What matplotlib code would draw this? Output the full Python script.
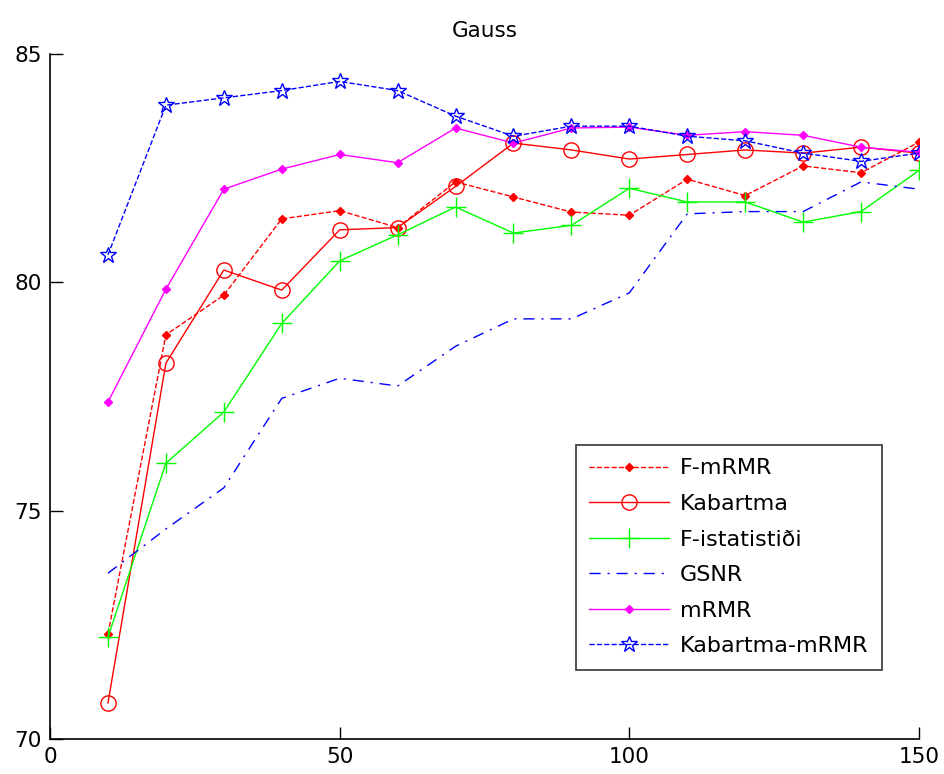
import matplotlib
matplotlib.use('Agg')
import matplotlib.pyplot as plt

plt.rcParams['font.family'] = ['DejaVu Sans']

# number of selected features
n_features = [10, 20, 30, 40, 50, 60, 70, 80, 90, 100, 110, 120, 130, 140, 150]

# accuracy (%) per method
f_mrmr = [72.3, 78.85, 79.72, 81.39, 81.57, 81.2, 82.2, 81.87, 81.54, 81.47, 82.26, 81.9, 82.55, 82.4, 83.07]
kabartma = [70.79, 78.23, 80.27, 79.83, 81.15, 81.2, 82.1, 83.05, 82.9, 82.7, 82.8, 82.9, 82.83, 82.96, 82.83]
f_istat = [72.23, 76.04, 77.16, 79.1, 80.47, 81.04, 81.65, 81.08, 81.25, 82.06, 81.76, 81.76, 81.32, 81.55, 82.45]
gsnr = [73.63, 74.6, 75.5, 77.46, 77.9, 77.73, 78.6, 79.2, 79.2, 79.77, 81.5, 81.55, 81.55, 82.2, 82.04]
mrmr = [77.38, 79.85, 82.04, 82.48, 82.8, 82.62, 83.38, 83.05, 83.38, 83.4, 83.22, 83.3, 83.22, 82.96, 82.85]
kabartma_mrmr = [80.6, 83.88, 84.04, 84.2, 84.4, 84.2, 83.64, 83.2, 83.42, 83.42, 83.2, 83.1, 82.83, 82.65, 82.83]

names = ['F-mRMR', 'Kabartma', 'F-istatistiði', 'GSNR', 'mRMR', 'Kabartma-mRMR']

fig = plt.figure(figsize=(9.44, 7.74), dpi=100)
ax = fig.add_axes([0.053, 0.0452, 0.9205, 0.885])

lw = 1.0
ax.plot(n_features, f_mrmr, color=(1, 0, 0), ls='--', lw=lw, marker='D', ms=4, label=names[0])
ax.plot(n_features, kabartma, color=(1, 0, 0), ls='-', lw=lw, marker='o', ms=11, mfc='none', mew=1.0, label=names[1])
ax.plot(n_features, f_istat, color=(0, 1, 0), ls='-', lw=lw, marker='+', ms=14, mew=1.0, label=names[2])
ax.plot(n_features, gsnr, color=(0, 0, 1), ls=(0, (8, 5, 1.5, 5)), lw=lw, label=names[3])
ax.plot(n_features, mrmr, color=(1, 0, 1), ls='-', lw=lw, marker='D', ms=4, label=names[4])
ax.plot(n_features, kabartma_mrmr, color=(0, 0, 1), ls='--', lw=lw, marker='*', ms=12, mfc='none', mew=1.0, label=names[5])

ax.set_xlim(0, 150)
ax.set_ylim(70, 85)
ax.set_xticks([0, 50, 100, 150])
ax.set_yticks([70, 75, 80, 85])
ax.spines['top'].set_visible(False)
ax.spines['right'].set_visible(False)
ax.spines['left'].set_linewidth(1.2)
ax.spines['bottom'].set_linewidth(1.2)
ax.tick_params(direction='in', length=9, width=1.0, labelsize=15.5, pad=6)
ax.set_title('Gauss', fontsize=15.5, pad=12)

leg = ax.legend(loc='upper left', bbox_to_anchor=(0.605, 0.429), fontsize=16,
                frameon=True, fancybox=False, edgecolor='k', handlelength=3.6,
                labelspacing=0.7, borderpad=0.6, handletextpad=0.5, borderaxespad=0)
leg.get_frame().set_linewidth(1.2)

fig.savefig('out.png', dpi=100)
